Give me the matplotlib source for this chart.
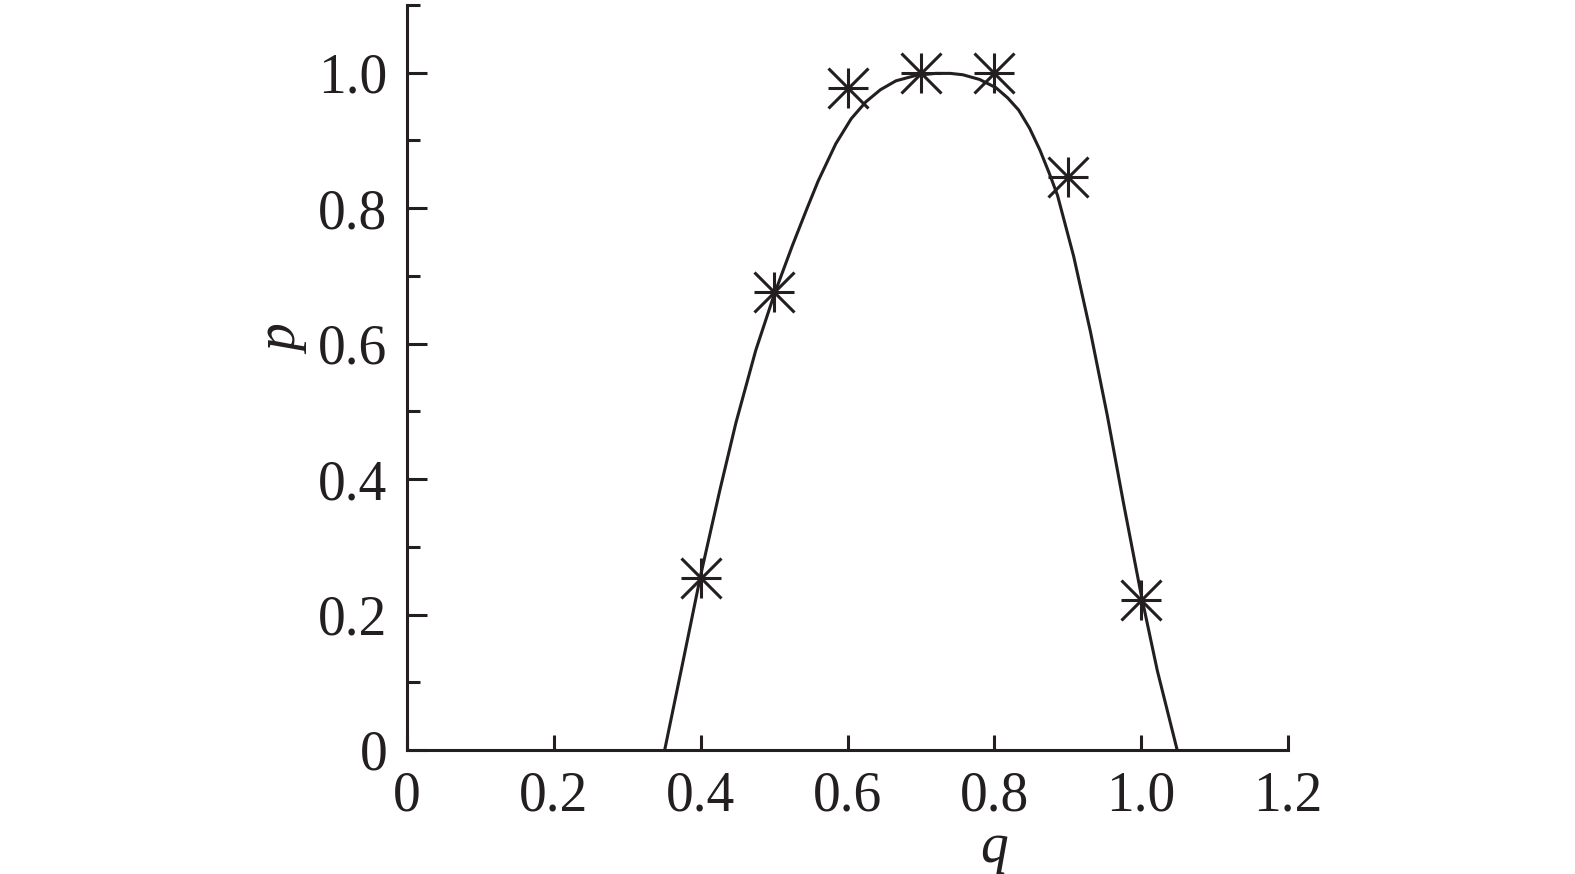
import matplotlib
matplotlib.use("Agg")
from matplotlib import pyplot as plt
from matplotlib.ticker import MultipleLocator, FixedFormatter, FixedLocator

# measured points
q_pts = [0.4, 0.5, 0.6, 0.7, 0.8, 0.9, 1.0]
p_pts = [0.254, 0.676, 0.977, 1.0, 1.0, 0.846, 0.222]

# fitted curve
q_fit = [0.351, 0.376, 0.400, 0.426, 0.448, 0.475, 0.500, 0.525, 0.545, 0.560,
         0.584, 0.605, 0.625, 0.645, 0.666, 0.693, 0.720, 0.740, 0.757, 0.780,
         0.802, 0.818, 0.833, 0.848, 0.862, 0.875, 0.886, 0.908, 0.931, 0.954,
         0.976, 1.000, 1.022, 1.049]
p_fit = [0.000, 0.131, 0.258, 0.383, 0.483, 0.590, 0.672, 0.745, 0.800, 0.840,
         0.895, 0.932, 0.957, 0.975, 0.988, 0.996, 0.999, 0.999, 0.997, 0.990,
         0.978, 0.963, 0.945, 0.918, 0.886, 0.851, 0.819, 0.729, 0.617, 0.493,
         0.364, 0.229, 0.117, 0.000]

x_ticks = [0, 0.2, 0.4, 0.6, 0.8, 1.0, 1.2]
x_labels = ["0", "0.2", "0.4", "0.6", "0.8", "1.0", "1.2"]
y_ticks = [0, 0.2, 0.4, 0.6, 0.8, 1.0]
y_labels = ["0", "0.2", "0.4", "0.6", "0.8", "1.0"]

ink = "#231f20"
plt.rcParams['font.family'] = ['Liberation Serif', 'DejaVu Serif']

fig = plt.figure(figsize=(15.75, 8.74), dpi=100)
ax = fig.add_axes([0.2584, 0.1419, 0.8178 - 0.2584, 0.9943 - 0.1419])

ax.plot(q_fit, p_fit, color=ink, lw=2.2, solid_joinstyle='round')
# asterisk = plus + cross on the same box
ax.plot(q_pts, p_pts, linestyle='none', marker='+', ms=29, mew=2.2, color=ink)
ax.plot(q_pts, p_pts, linestyle='none', marker='x', ms=29, mew=2.2, color=ink)

ax.set_xlim(0, 1.2)
ax.set_ylim(0, 1.1)
ax.spines['top'].set_visible(False)
ax.spines['right'].set_visible(False)
for s in ('left', 'bottom'):
    ax.spines[s].set_linewidth(2.2)
    ax.spines[s].set_color(ink)

ax.xaxis.set_major_locator(FixedLocator(x_ticks))
ax.xaxis.set_major_formatter(FixedFormatter(x_labels))
ax.yaxis.set_major_locator(FixedLocator(y_ticks))
ax.yaxis.set_major_formatter(FixedFormatter(y_labels))
ax.yaxis.set_minor_locator(MultipleLocator(0.1))

ax.tick_params(axis='x', direction='in', length=11, width=2.2, color=ink,
               labelsize=40, labelcolor=ink, pad=15)
ax.tick_params(axis='y', which='major', direction='in', length=14.5, width=2.2,
               color=ink, labelsize=40, labelcolor=ink, pad=14)
ax.tick_params(axis='y', which='minor', direction='in', length=9.5, width=2.2,
               color=ink)

ax.set_xlabel('q', fontsize=40, style='italic', color=ink, va='bottom')
ax.xaxis.set_label_coords(0.8 / 1.2, -0.166)
ax.set_ylabel('p', fontsize=40, style='italic', color=ink, va='center')
ax.yaxis.set_label_coords(-0.139, 0.55)

fig.savefig("out.png", dpi=100)
